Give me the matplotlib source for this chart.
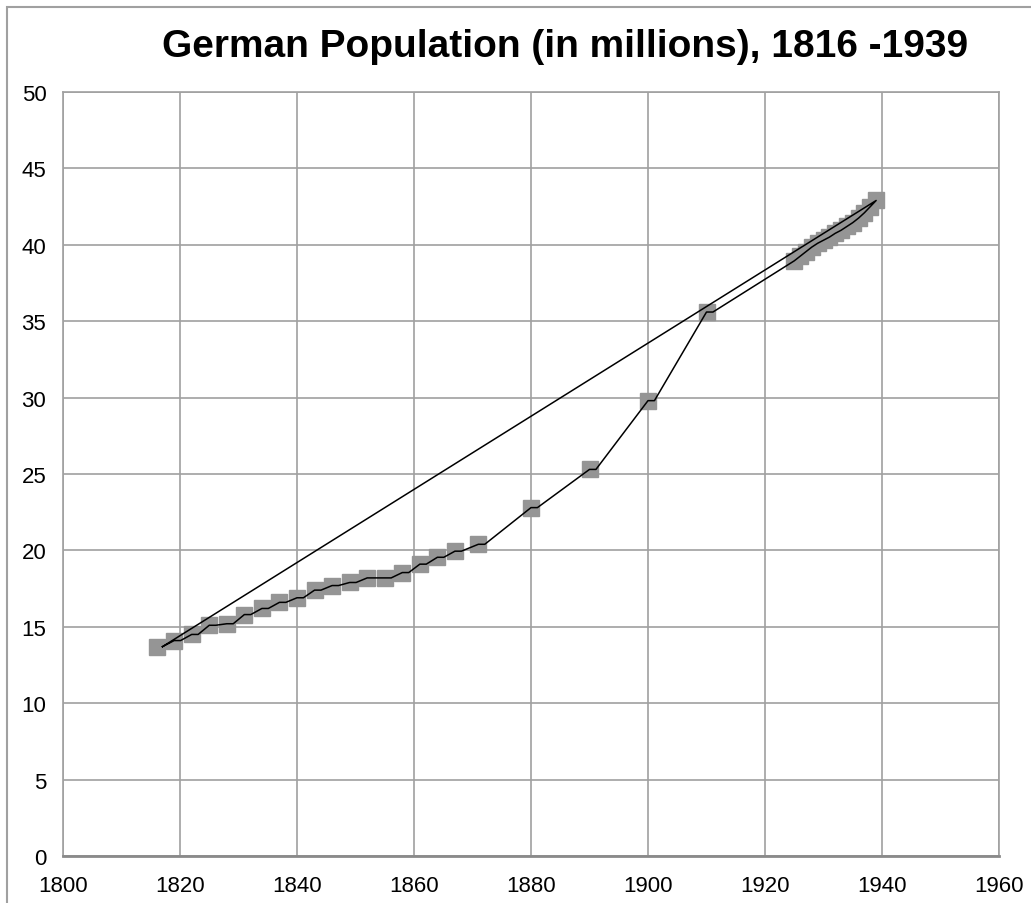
import matplotlib
matplotlib.use('Agg')
from matplotlib import pyplot as plt
from matplotlib.patches import Rectangle

plt.rcParams['font.family'] = ['Liberation Sans', 'DejaVu Sans']

# population data (millions)
years = [1816, 1819, 1822, 1825, 1828, 1831, 1834, 1837, 1840, 1843,
         1846, 1849, 1852, 1855, 1858, 1861, 1864, 1867, 1871, 1880,
         1890, 1900, 1910, 1925, 1926, 1927, 1928, 1929, 1930, 1931,
         1932, 1933, 1934, 1935, 1936, 1937, 1938, 1939]
population = [13.7, 14.1, 14.5, 15.1, 15.2, 15.8, 16.2, 16.6, 16.9, 17.4,
              17.7, 17.9, 18.2, 18.2, 18.55, 19.1, 19.55, 19.95, 20.4, 22.8,
              25.3, 29.8, 35.6, 38.95, 39.25, 39.55, 39.85, 40.1, 40.3, 40.5,
              40.75, 40.95, 41.2, 41.45, 41.75, 42.1, 42.5, 42.9]

x_ticks = [1800, 1820, 1840, 1860, 1880, 1900, 1920, 1940, 1960]
y_ticks = [0, 5, 10, 15, 20, 25, 30, 35, 40, 45, 50]

fig = plt.figure(figsize=(10.31, 9.04), dpi=100)
ax = fig.add_axes([63 / 1031, 1 - 857 / 904, 936 / 1031, 764 / 904])

# gray square markers
ax.plot(years, population, linestyle='none', marker='s', markersize=11.5,
        color='#959595', zorder=3)

# black line: short flat step to the right of each sparse point,
# smooth through the yearly points, then closed back to the start
line_x = [years[0] + 1]
line_y = [population[0]]
for i in range(1, len(years)):
    line_x.append(years[i])
    line_y.append(population[i])
    if i + 1 < len(years) and years[i + 1] - years[i] > 1:
        line_x.append(years[i] + 1.1)
        line_y.append(population[i])
line_x.append(line_x[0])
line_y.append(line_y[0])
ax.plot(line_x, line_y, color='black', linewidth=1.1, zorder=4)

ax.set_xlim(1800, 1960)
ax.set_ylim(0, 50)
ax.set_xticks(x_ticks)
ax.set_yticks(y_ticks)
ax.tick_params(axis='x', length=0, labelsize=16, pad=14)
ax.tick_params(axis='y', length=0, labelsize=16, pad=12)
ax.grid(True, color='#a0a0a0', linewidth=1.2)
ax.set_axisbelow(True)
for s in ax.spines.values():
    s.set_color('#a0a0a0')
    s.set_linewidth(1.2)
ax.spines['bottom'].set_color('#8a8a8a')
ax.spines['bottom'].set_linewidth(2)

fig.text(565 / 1031, 1 - 47 / 904, 'German Population (in millions), 1816 -1939',
         ha='center', va='center', fontsize=28, fontweight='bold')

# chart area border
fig.patches.append(Rectangle((7 / 1031, -0.05), 1.1, 1.05 - 8 / 904, transform=fig.transFigure,
                             fill=False, edgecolor='#a0a0a0', linewidth=1.5))

fig.savefig('out.png', dpi=100)
